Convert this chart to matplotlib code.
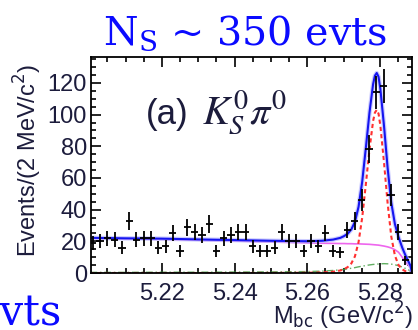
import numpy as np
import matplotlib
matplotlib.use('Agg')
import matplotlib.pyplot as plt
from matplotlib.ticker import MultipleLocator

# data: 2 MeV bins in Mbc starting at 5.200 GeV
bin_lo = 5.200
bin_w = 0.002
counts = [19, 20, 22, 21, 16, 33, 21, 22, 22, 16, 17, 25, 14, 29, 26,
          24, 31, 14, 22, 24, 26, 26, 17, 14, 14, 16, 26, 20, 20, 14,
          20, 17, 25, 14, 13, 27, 33, 46, 78, 114, 118, 49, 26, 8]

# fit curves
fit_x = [5.2003, 5.21, 5.22, 5.23, 5.24, 5.25, 5.26, 5.2641, 5.2671, 5.2691,
         5.2701, 5.2711, 5.2721, 5.2731, 5.2741, 5.2751, 5.2761, 5.2771, 5.2781, 5.2786,
         5.2791, 5.2796, 5.2801, 5.2811, 5.2821, 5.2831, 5.2841, 5.2851, 5.2861, 5.2871,
         5.2879, 5.2884, 5.2888]
fit_total = [22.2, 21.9, 21.7, 21.2, 20.8, 20.35, 20.05, 20.35, 21.1, 22.2,
             23.3, 24.8, 27.5, 32.3, 41.8, 57.6, 78.9, 101.2, 119.3, 124.6,
             126.3, 123.9, 116.2, 92.9, 66.3, 44.4, 30.9, 22.7, 16.1, 10.6,
             6.85, 4.55, 0]
fit_signal = [0, 0, 0, 0, 0, 0.05, 0.15, 0.35, 0.8, 1.6,
              2.4, 3.7, 6.0, 10.5, 19.5, 35, 56, 78, 96, 101.3,
              103, 100.6, 93, 70, 44, 23, 11, 5, 2.3, 1.0,
              0.35, 0.15, 0]
fit_bkg = [21.8, 21.5, 21.2, 20.7, 20.2, 19.6, 19.0, 18.8, 18.7, 18.6,
           18.6, 18.5, 18.5, 18.4, 18.4, 18.3, 18.2, 18.1, 17.9, 17.8,
           17.7, 17.6, 17.4, 17.0, 16.5, 15.8, 14.7, 13.1, 10.0, 6.8,
           4.6, 3.2, 0]
fit_peaking = [0.4, 0.4, 0.5, 0.5, 0.6, 0.7, 0.9, 1.2, 1.6, 2.0,
               2.3, 2.6, 3.0, 3.4, 3.9, 4.3, 4.7, 5.1, 5.4, 5.5,
               5.6, 5.7, 5.8, 5.9, 5.8, 5.6, 5.2, 4.6, 3.8, 2.8,
               1.9, 1.2, 0]

centers = bin_lo + bin_w * (np.arange(len(counts)) + 0.5)
counts = np.array(counts, dtype=float)

fig = plt.figure(figsize=(4.18, 3.30), dpi=100)
ax = fig.add_axes([91/418, 57/330, 321/418, 216/330])

ax.plot(fit_x, fit_peaking, color='#3a9a3a', lw=1.0, ls=(0, (5, 2, 1, 2)), alpha=0.8)
ax.plot(fit_x, fit_bkg, color='#ee66ee', lw=1.2)
ax.plot(fit_x, fit_signal, color='#ff3030', lw=1.5, ls=(0, (2, 1.5)))
ax.plot(fit_x, fit_total, color='#b8b8ff', lw=3.2, alpha=0.7)
ax.plot(fit_x, fit_total, color='#1515f0', lw=1.5)
ax.errorbar(centers, counts, yerr=np.sqrt(counts), xerr=bin_w/2, fmt='none',
            ecolor='black', elinewidth=1.3, capsize=0, zorder=5)

ax.set_xlim(5.2005, 5.2888)
ax.set_ylim(0, 136.4)
ax.xaxis.set_major_locator(MultipleLocator(0.02))
ax.xaxis.set_minor_locator(MultipleLocator(0.005))
ax.yaxis.set_major_locator(MultipleLocator(20))
ax.yaxis.set_minor_locator(MultipleLocator(5))
ax.tick_params(which='both', direction='in', top=True, right=True, width=1.2)
ax.tick_params(which='major', length=7.5)
ax.tick_params(which='minor', length=3.8)
ax.tick_params(axis='x', pad=7)
ax.tick_params(axis='y', pad=3)
for lab in ax.get_xticklabels() + ax.get_yticklabels():
    lab.set_fontfamily('Liberation Sans')
    lab.set_fontsize(17)
    lab.set_color('#1c1c3c')
for sp in ax.spines.values():
    sp.set_linewidth(1.3)

ax.text(0.17, 0.69, '(a)', transform=ax.transAxes, fontsize=25,
        family='Liberation Sans', color='#1c1c3c', va='baseline')
ax.text(0.345, 0.69, r'$K^{\mathit{0}}_{S}\pi^{\mathit{0}}$', transform=ax.transAxes,
        fontsize=29, math_fontfamily='stix', color='#1c1c3c', va='baseline')

fig.text(37/418, 1 - 257/330, r'Events/(2 MeV/c$^{2}$)', rotation=90,
         rotation_mode='anchor', ha='left', va='baseline', fontsize=17,
         family='Liberation Sans', color='#1c1c3c')
fig.text(413/418, 1 - 325/330, r'M$_{\rm bc}$ (GeV/c$^{2}$)', ha='right',
         va='baseline', fontsize=17, family='Liberation Sans', color='#1c1c3c')

fig.text(103/418, 1 - 45/330, r'N$_{\rm S}$ ~ 350 evts', fontsize=28.5,
         family='DejaVu Serif', math_fontfamily='dejavuserif', color='#0a0aff',
         va='baseline')
fig.text(62/418, 1 - 326/330, 'evts', fontsize=30, family='DejaVu Serif',
         color='#0a0aff', ha='right', va='baseline')

fig.savefig('out.png', dpi=100)
